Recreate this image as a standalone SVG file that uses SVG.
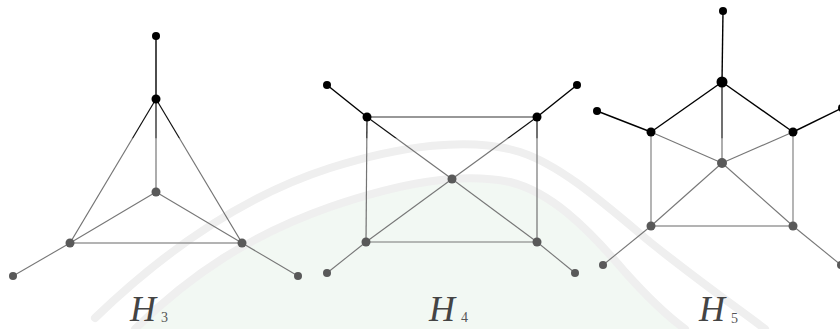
<svg xmlns="http://www.w3.org/2000/svg" width="840" height="329" viewBox="0 0 840 329">
<defs>
<linearGradient id="eg" gradientUnits="userSpaceOnUse" x1="0" y1="0" x2="0" y2="329">
<stop offset="0" stop-color="#000"/>
<stop offset="0.418" stop-color="#111"/>
<stop offset="0.422" stop-color="#777"/>
<stop offset="1" stop-color="#6a6a6a"/>
</linearGradient>
<style>
.e{stroke:url(#eg);stroke-width:1.2;fill:none}
.b{stroke:#000;stroke-width:1.4}
.g{stroke:#777;stroke-width:1.1}
.lg{stroke:#9a9a9a;stroke-width:1.6}
.nb{fill:#000}
.ng{fill:#595959}
.lbl{font-family:"Liberation Serif","Times New Roman",serif;font-style:italic;font-size:36px;fill:#444}
.sub{font-family:"Liberation Serif","Times New Roman",serif;font-size:14px;fill:#555}
.wm{fill:none;stroke:#efefef;stroke-width:8;stroke-linecap:round}
</style>
</defs>
<rect width="840" height="329" fill="#fff"/>
<g id="watermark">
<path d="M135 329 C 190 275, 250 235, 330 207 C 400 183, 460 172, 510 182 C 550 192, 585 225, 625 272 C 650 300, 670 318, 685 329 Z" fill="#f2f8f3"/>
<path class="wm" d="M95 318 C 150 265, 230 200, 330 168 C 400 146, 470 136, 520 152 C 560 165, 600 200, 650 242 C 700 282, 740 310, 765 329"/>
<path class="wm" d="M135 329 C 190 275, 250 235, 330 207 C 400 183, 460 172, 510 182 C 550 192, 585 225, 625 272 C 650 300, 670 318, 685 329"/>
</g>
<g id="connectors">
<line class="b" x1="156" y1="36" x2="156" y2="99"/>
<line class="e" x1="156" y1="99" x2="156" y2="192"/>
<line class="e" x1="156" y1="99" x2="70" y2="243"/>
<line class="e" x1="156" y1="99" x2="242" y2="243"/>
<line class="g" x1="156" y1="192" x2="70" y2="243"/>
<line class="g" x1="156" y1="192" x2="242" y2="243"/>
<line class="lg" x1="70" y1="243" x2="242" y2="243"/>
<line class="g" x1="70" y1="243" x2="13" y2="276"/>
<line class="g" x1="242" y1="243" x2="298" y2="276"/>

<line class="b" x1="327" y1="85" x2="367" y2="117"/>
<line class="b" x1="537" y1="117" x2="577" y2="85"/>
<line class="e" x1="367" y1="117" x2="537" y2="117" style="stroke:#333"/>
<line class="e" x1="367" y1="117" x2="366" y2="242"/>
<line class="e" x1="537" y1="117" x2="537" y2="242"/>
<line class="e" x1="367" y1="117" x2="452" y2="179"/>
<line class="e" x1="537" y1="117" x2="452" y2="179"/>
<line class="g" x1="452" y1="179" x2="366" y2="242"/>
<line class="g" x1="452" y1="179" x2="537" y2="242"/>
<line class="g" x1="366" y1="242" x2="537" y2="242"/>
<line class="g" x1="366" y1="242" x2="327" y2="273"/>
<line class="g" x1="537" y1="242" x2="575" y2="273"/>

<line class="b" x1="723" y1="11" x2="722" y2="82"/>
<line class="b" x1="722" y1="82" x2="651" y2="132"/>
<line class="b" x1="722" y1="82" x2="793" y2="132"/>
<line class="e" x1="722" y1="82" x2="722" y2="163"/>
<line class="b" x1="651" y1="132" x2="597" y2="111"/>
<line class="b" x1="793" y1="132" x2="842" y2="108"/>
<line class="g" x1="651" y1="132" x2="722" y2="163"/>
<line class="g" x1="793" y1="132" x2="722" y2="163"/>
<line class="g" x1="651" y1="132" x2="651" y2="226"/>
<line class="g" x1="793" y1="132" x2="793" y2="226"/>
<line class="g" x1="722" y1="163" x2="651" y2="226"/>
<line class="g" x1="722" y1="163" x2="793" y2="226"/>
<line class="lg" x1="651" y1="226" x2="793" y2="226"/>
<line class="g" x1="651" y1="226" x2="603" y2="265"/>
<line class="g" x1="793" y1="226" x2="841" y2="265"/>
</g>
<g id="H3">
<circle class="nb" cx="156" cy="36" r="4"/>
<circle class="nb" cx="156" cy="99" r="4.5"/>
<circle class="ng" cx="156" cy="192" r="4.5"/>
<circle class="ng" cx="70" cy="243" r="4.5"/>
<circle class="ng" cx="242" cy="243" r="4.5"/>
<circle class="ng" cx="13" cy="276" r="4"/>
<circle class="ng" cx="298" cy="276" r="4"/>
<text class="lbl" x="130" y="321">H</text>
<text class="sub" x="161" y="322">3</text>
</g>
<g id="H4">
<circle class="nb" cx="327" cy="85" r="4"/>
<circle class="nb" cx="577" cy="85" r="4"/>
<circle class="nb" cx="367" cy="117" r="4.5"/>
<circle class="nb" cx="537" cy="117" r="4.5"/>
<circle class="ng" cx="452" cy="179" r="4.5"/>
<circle class="ng" cx="366" cy="242" r="4.5"/>
<circle class="ng" cx="537" cy="242" r="4.5"/>
<circle class="ng" cx="327" cy="273" r="4"/>
<circle class="ng" cx="575" cy="273" r="4"/>
<text class="lbl" x="429" y="321">H</text>
<text class="sub" x="461" y="322">4</text>
</g>
<g id="H5">
<circle class="nb" cx="723" cy="11" r="4"/>
<circle class="nb" cx="722" cy="82" r="5.5"/>
<circle class="nb" cx="651" cy="132" r="4.5"/>
<circle class="nb" cx="793" cy="132" r="4.5"/>
<circle class="nb" cx="597" cy="111" r="4"/>
<circle class="nb" cx="842" cy="108" r="4"/>
<circle class="ng" cx="722" cy="163" r="5"/>
<circle class="ng" cx="651" cy="226" r="4.5"/>
<circle class="ng" cx="793" cy="226" r="4.5"/>
<circle class="ng" cx="603" cy="265" r="4"/>
<circle class="ng" cx="841" cy="265" r="4"/>
<text class="lbl" x="699" y="321">H</text>
<text class="sub" x="731" y="323">5</text>
</g>
</svg>
